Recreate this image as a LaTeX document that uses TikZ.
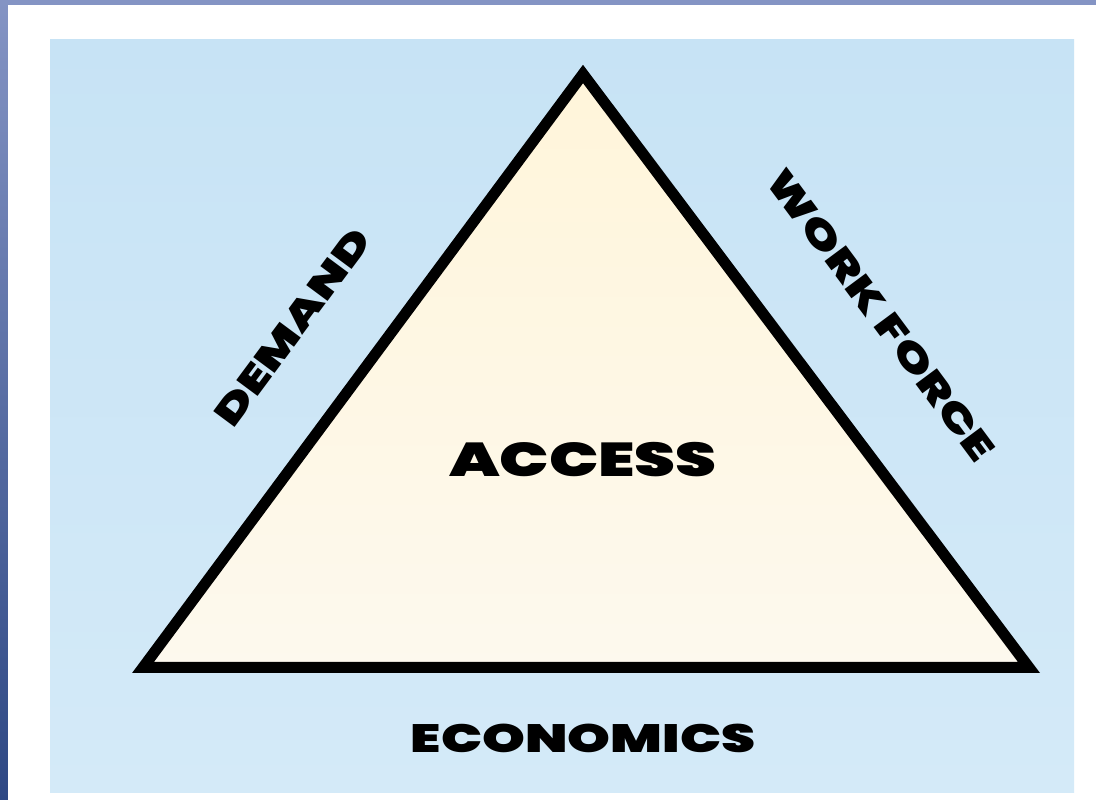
\documentclass[tikz,border=0pt]{standalone}
\usepackage{fontspec}
\usepackage{tikz}
\usetikzlibrary{positioning}
\newfontfamily\heavyfont{Poppins Black}[FakeStretch=1.38]
\definecolor{framebluetop}{HTML}{8494C4}
\definecolor{frameblue}{HTML}{2E4884}
\definecolor{paneltop}{HTML}{C7E3F5}
\definecolor{panelbot}{HTML}{D4EAF8}
\definecolor{creamtop}{HTML}{FFF5DA}
\definecolor{creambot}{HTML}{FDF9EE}
\tikzset{side/.style = {font=\heavyfont\fontsize{37.5}{37.5}\selectfont, inner sep=0}}
\tikzset{base/.style = {font=\heavyfont\fontsize{39.5}{39.5}\selectfont, inner sep=0}}
\tikzset{core/.style = {font=\heavyfont\fontsize{47.5}{47.5}\selectfont, inner sep=0}}

\begin{document}
\begin{tikzpicture}[x=1pt, y=1pt]
      \useasboundingbox (0, 0) rectangle (1096, 800);
      \shade [top color=framebluetop, bottom color=frameblue] (0, 0) rectangle (1096, 800);
      \fill [white] (8, 0) rectangle (1096, 795);
      \shade [top color=paneltop, bottom color=panelbot] (50, 7) rectangle (1074, 760);

      \coordinate (top) at (583, 726);
      \coordinate (left) at (143, 132.5);
      \coordinate (right) at (1029, 132.5);
      \shade [top color=creamtop, bottom color=creambot] (top) -- (left) -- (right) -- cycle;
      \draw [line width=11, line join=miter] (top) -- (left) -- (right) -- cycle;

      \node [core] (access) at (583, 340) {ACCESS};
      \node [base] (economics) at (583, 62) {ECONOMICS};
      \node [side, rotate=53.4] (demand) at (293, 473) {DEMAND};
      \node [side, rotate=-53.4] (workforce) at (881, 485) {WORK FORCE};
    \end{tikzpicture}
\end{document}
